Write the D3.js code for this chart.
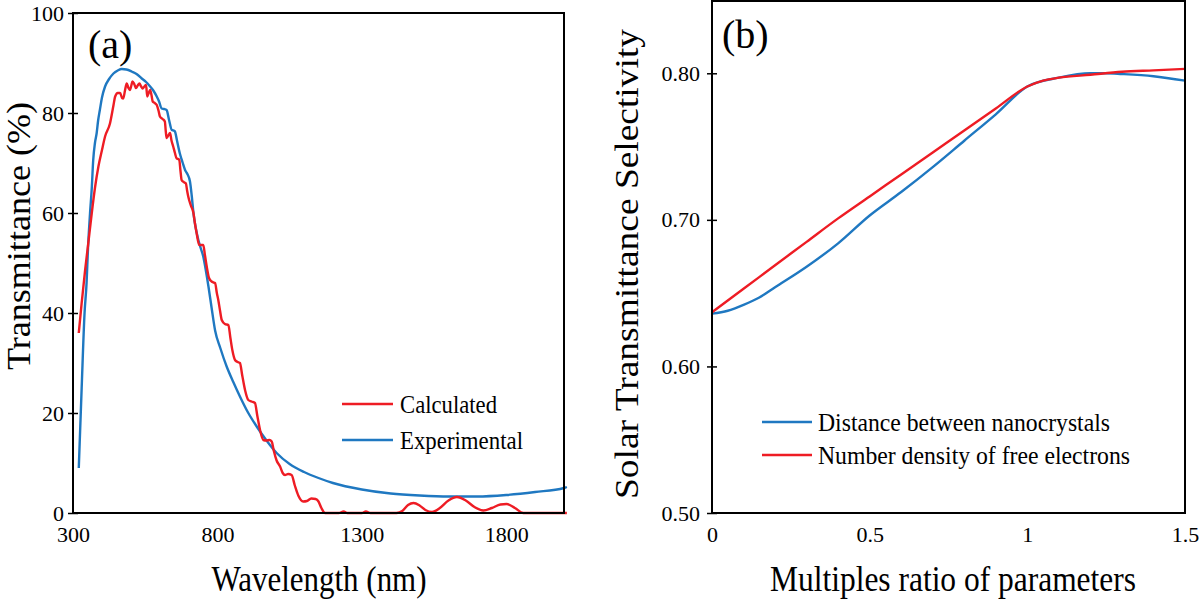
<!DOCTYPE html>
<html>
<head>
<meta charset="utf-8">
<script src="https://cdn.jsdelivr.net/npm/d3@7"></script>
<style>
  html, body { margin: 0; padding: 0; background: #fff; }
  svg { display: block; }
  text { font-family: "Liberation Serif", "Times New Roman", serif; fill: #000; }
</style>
</head>
<body>
<svg id="chart" width="1200" height="602"></svg>
<script>
// ---------- Panel (a) data ----------
const calcWavelength = [320,330,342,352,365,376,388,400,411,428,440,446,455,463,470,474,480,486,492,497,502,506,512,518,524,530,536,541,547,553,557,562,567,572,576,583,590,596,601,610,618,621,624,630,636,641,647,653,659,664,668,672,676,683,691,695,699,708,717,722,728,737,745,751,757,763,771,780,786,792,798,803,809,815,826,838,845,852,861,870,878,886,896,907,918,930,938,948,959,970,980,988,995,1005,1017,1026,1034,1045,1057,1068,1080,1097,1110,1125,1140,1150,1160,1173,1220,1237,1250,1300,1314,1330,1420,1440,1460,1479,1500,1520,1543,1570,1600,1629,1660,1690,1721,1750,1780,1801,1830,1859,2010];
const calcTransmittance = [36,42,48.6,53.5,60,65,69.3,72.5,75.3,77.9,81.5,83.3,84,84,83,82.9,84.5,85.9,85,84.6,85.5,86.3,85.8,85,85.5,85.9,85.3,84.9,85.3,85.6,83.3,84,84.6,83.5,82.3,82,81.6,80.5,79.3,78.8,78.3,76.5,75,75.5,76,74.5,73.3,72,70.9,70.8,70.6,68.5,66.6,66.2,65.9,64.5,63.3,61.5,60,58,56,53.6,53.6,53.6,51.5,49.3,47,46.3,46.1,46,44,42.6,40.5,38.6,37.8,37.6,35,32.5,30.6,30.2,30,27.5,24.5,22.6,22.3,22,19.5,16.5,14.6,14.5,14.6,14.3,12.5,10.5,9.3,8,7.6,7.8,7.6,5.5,3.5,2.3,2.4,2.9,2.8,2.3,1,0,0,0.3,0,0,0.3,0,0,0.4,1.6,2,1.5,0.6,0.2,1,2.5,3.2,2.5,1.2,0.5,1,1.7,1.8,1,0,0];

const expWavelength = [320,330,340,347,352,359,365,370,376,382,387,393,400,411,425,440,455,469,485,503,520,538,553,567,578,590,598,607,615,624,633,642,648,653,660,670,680,688,696,705,711,717,725,734,742,751,760,769,780,792,810,832,855,878,905,936,970,1005,1050,1100,1150,1200,1300,1400,1500,1600,1700,1800,1900,2000,2010];
const expTransmittance = [9,25,40,46,53,60,65,70.6,74,76,78.5,80.6,83,85.3,86.8,87.9,88.5,88.8,88.7,88.3,87.8,86.9,86.2,85.3,84.5,83.3,82.3,80.9,80.8,80.6,78.5,76.6,76.5,76.3,74.5,71.9,70,68.6,67.8,66.3,63.5,60,57,54.6,53,51.3,48.5,45.3,41,36.5,33,29.3,26.2,23.3,20.2,17.3,14.5,12,9.8,8.2,7,6,4.7,3.9,3.5,3.3,3.3,3.6,4.2,5.0,5.2];

const aXTicks = [300, 800, 1300, 1800];
const aYTicks = [0, 20, 40, 60, 80, 100];
const aSeriesNames = ["Calculated", "Experimental"];

// ---------- Panel (b) data ----------
const ratioRed = [0,0.1,0.2,0.3,0.4,0.5,0.6,0.7,0.8,0.9,1.0,1.05,1.1,1.2,1.3,1.4,1.5];
const densityValues = [0.637,0.653,0.669,0.685,0.701,0.716,0.731,0.746,0.761,0.776,0.791,0.795,0.797,0.799,0.801,0.802,0.803];
const ratioBlue = [0,0.05,0.1,0.15,0.2,0.3,0.4,0.5,0.6,0.7,0.8,0.9,1.0,1.1,1.2,1.25,1.3,1.4,1.5];
const distanceValues = [0.636,0.638,0.642,0.647,0.654,0.668,0.684,0.703,0.719,0.736,0.754,0.772,0.791,0.797,0.800,0.800,0.7995,0.798,0.795];
const bXTicks = [0, 0.5, 1, 1.5];
const bYTicks = [0.5, 0.6, 0.7, 0.8];
const bSeriesNames = ["Distance between nanocrystals", "Number density of free electrons"];

const RED = "#ee1c24", BLUE = "#1f78c1";

const svg = d3.select("#chart");

function styleAxis(g, cross) {
  g.select(".domain").remove();
  g.selectAll(".tick line").attr("stroke", "#000").attr("stroke-width", 1.5);
  if (cross) g.selectAll(".tick line").attr("x1", -5).attr("x2", 5);
  g.selectAll(".tick text").style("font-family", '"Liberation Serif", serif').attr("fill", "#000");
}

// ================= Panel (a) =================
const xA = d3.scaleLinear().domain([300, 2000]).range([73, 564]);
const yA = d3.scaleLinear().domain([0, 100]).range([513, 13]);

const gA = svg.append("g");
gA.append("g").attr("transform", "translate(73,0)")
  .call(d3.axisLeft(yA).tickValues(aYTicks).tickSize(5).tickPadding(4).tickFormat(d3.format("d")))
  .call(g => styleAxis(g, true))
  .selectAll("text").style("font-size", "22px");
gA.append("g").attr("transform", "translate(0,513)")
  .call(d3.axisBottom(xA).tickValues(aXTicks).tickSize(0).tickPadding(13).tickFormat(d3.format("d")))
  .call(g => styleAxis(g, false))
  .selectAll("text").style("font-size", "22px");

const lineA = d3.line().x(d => xA(d[0])).y(d => yA(d[1])).curve(d3.curveMonotoneX);
gA.append("path").datum(d3.zip(expWavelength, expTransmittance))
  .attr("d", lineA).attr("fill", "none").attr("stroke", BLUE).attr("stroke-width", 2.4);
gA.append("path").datum(d3.zip(calcWavelength, calcTransmittance))
  .attr("d", lineA).attr("fill", "none").attr("stroke", RED).attr("stroke-width", 2.4);

gA.append("rect").attr("x", xA(300)).attr("y", yA(100))
  .attr("width", xA(2000) - xA(300)).attr("height", yA(0) - yA(100))
  .attr("fill", "none").attr("stroke", "#000").attr("stroke-width", 2);

gA.append("text").attr("x", 88).attr("y", 58).style("font-size", "40px").text("(a)");

// legend (a)
const legA = [[aSeriesNames[0], RED, 404, 97], [aSeriesNames[1], BLUE, 440, 123]];
legA.forEach(([name, col, yy, len]) => {
  gA.append("line").attr("x1", 342).attr("x2", 393).attr("y1", yy).attr("y2", yy)
    .attr("stroke", col).attr("stroke-width", 2.4);
  gA.append("text").attr("x", 400).attr("y", yy + 9).style("font-size", "26px")
    .attr("textLength", len).attr("lengthAdjust", "spacingAndGlyphs").text(name);
});

gA.append("text").attr("x", 319).attr("y", 591).attr("text-anchor", "middle")
  .style("font-size", "36px").attr("textLength", 215).attr("lengthAdjust", "spacingAndGlyphs")
  .text("Wavelength (nm)");
gA.append("text").attr("transform", "translate(30,236) rotate(-90)").attr("text-anchor", "middle")
  .style("font-size", "34px").attr("textLength", 268).attr("lengthAdjust", "spacingAndGlyphs")
  .text("Transmittance (%)");

// ================= Panel (b) =================
const xB = d3.scaleLinear().domain([0, 1.5]).range([712, 1185]);
const yB = d3.scaleLinear().domain([0.5, 0.85]).range([513, 0]);

const gB = svg.append("g");
gB.append("g").attr("transform", "translate(712,0)")
  .call(d3.axisLeft(yB).tickValues(bYTicks).tickSize(5).tickPadding(7).tickFormat(d3.format(".2f")))
  .call(g => styleAxis(g, true))
  .selectAll("text").style("font-size", "22px");
gB.append("g").attr("transform", "translate(0,513)")
  .call(d3.axisBottom(xB).tickValues(bXTicks).tickSize(0).tickPadding(13).tickFormat(d => String(d)))
  .call(g => styleAxis(g, false))
  .selectAll("text").style("font-size", "22px");

const lineB = d3.line().x(d => xB(d[0])).y(d => yB(d[1])).curve(d3.curveMonotoneX);
gB.append("path").datum(d3.zip(ratioBlue, distanceValues))
  .attr("d", lineB).attr("fill", "none").attr("stroke", BLUE).attr("stroke-width", 2.4);
gB.append("path").datum(d3.zip(ratioRed, densityValues))
  .attr("d", lineB).attr("fill", "none").attr("stroke", RED).attr("stroke-width", 2.4);

gB.append("rect").attr("x", xB(0)).attr("y", 1)
  .attr("width", xB(1.5) - xB(0)).attr("height", yB(0.5) - 1)
  .attr("fill", "none").attr("stroke", "#000").attr("stroke-width", 2);

gB.append("text").attr("x", 722).attr("y", 48).style("font-size", "40px").text("(b)");

const legB = [[bSeriesNames[0], BLUE, 422, 292], [bSeriesNames[1], RED, 455, 312]];
legB.forEach(([name, col, yy, len]) => {
  gB.append("line").attr("x1", 762).attr("x2", 812).attr("y1", yy).attr("y2", yy)
    .attr("stroke", col).attr("stroke-width", 2.4);
  gB.append("text").attr("x", 818).attr("y", yy + 9).style("font-size", "26px")
    .attr("textLength", len).attr("lengthAdjust", "spacingAndGlyphs").text(name);
});

gB.append("text").attr("x", 953).attr("y", 591).attr("text-anchor", "middle")
  .style("font-size", "36px").attr("textLength", 366).attr("lengthAdjust", "spacingAndGlyphs")
  .text("Multiples ratio of parameters");
gB.append("text").attr("transform", "translate(638,264) rotate(-90)").attr("text-anchor", "middle")
  .style("font-size", "34px").attr("textLength", 470).attr("lengthAdjust", "spacingAndGlyphs")
  .text("Solar Transmittance  Selectivity");
</script>
</body>
</html>
